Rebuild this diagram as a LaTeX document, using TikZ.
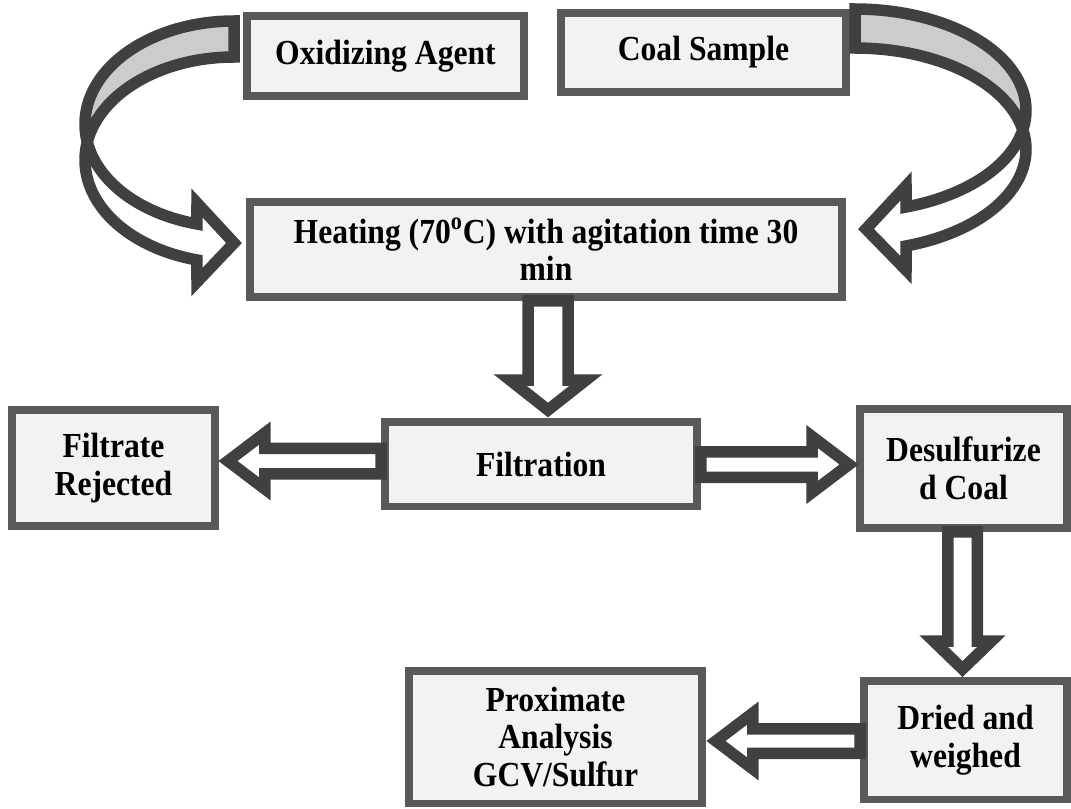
\documentclass[tikz,border=0pt]{standalone}
\usepackage{fontspec}
\setmainfont{Liberation Serif}[FakeStretch=0.9]
\usetikzlibrary{calc}
\definecolor{boxf}{HTML}{F2F2F2}
\definecolor{boxc}{HTML}{595959}
\definecolor{arrc}{HTML}{404040}
\definecolor{bandc}{HTML}{CCCCCC}
% #1 start, #2 tip, #3 shaft half width, #4 head half width, #5 head length
\newcommand\blockarrow[5]{%
  \coordinate (bac) at ($(#2)!#5!(#1)$);
  \draw[blk] ($(#1)!#3!90:(#2)$) -- ($(bac)!#3!90:(#2)$) -- ($(bac)!#4!90:(#2)$)
    -- (#2) -- ($(bac)!#4!-90:(#2)$) -- ($(bac)!#3!-90:(#2)$)
    -- ($(#1)!#3!-90:(#2)$) -- cycle;}
\begin{document}
\begin{tikzpicture}[x=0.02cm,y=-0.02cm,
  box/.style={draw=boxc, fill=boxf, line width=0.15cm, inner sep=0pt, align=center,
    font=\fontsize{20}{21.5}\selectfont\bfseries},
  blk/.style={draw=arrc, fill=white, line width=0.23cm, line join=miter},
  carr/.style={draw=arrc, line width=0.23cm, line join=miter},
  band/.style={fill=bandc}]
\useasboundingbox (0,0) rectangle (1071,808);

% boxes
\node[box, minimum width=5.55cm, minimum height=1.61cm] (ox) at (385.5,56) {Oxidizing Agent};
\node[box, minimum width=5.71cm, minimum height=1.59cm] (coal) at (703.5,52.5) {Coal Sample};
\node[box, minimum width=11.85cm, minimum height=1.91cm] (heat) at (546,249.5) {Heating (70\textsuperscript{o}C) with agitation time 30\\min};
\node[box, minimum width=4.07cm, minimum height=2.33cm] (rej) at (113.5,468) {Filtrate\\Rejected};
\node[box, minimum width=6.25cm, minimum height=1.69cm] (fil) at (541,464) {Filtration};
\node[box, minimum width=4.15cm, minimum height=2.39cm] (des) at (963.5,468.5) {Desulfurize\\d Coal};
\node[box, minimum width=5.87cm, minimum height=2.65cm] (prox) at (555.5,737) {Proximate\\Analysis\\GCV/Sulfur};
\node[box, minimum width=4.07cm, minimum height=2.37cm] (dried) at (965.5,740) {Dried and\\weighed};

% left curved arrow (oxidizing agent -> heating)
\fill[band] plot[domain=270:169.95, samples=60, variable=\t] ({234+149*cos(\t)},{124.1+103.1*sin(\t)})
  -- plot[domain=190.05:270, samples=60, variable=\t] ({234+149*cos(\t)},{160.1+103.1*sin(\t)}) -- cycle;
\draw[carr] (234,21) -- plot[domain=270:104.4, samples=90, variable=\t] ({234+149*cos(\t)},{124.1+103.1*sin(\t)})
  -- (197,203) -- (234,243) -- (197,282)
  -- plot[domain=104.4:270, samples=90, variable=\t] ({234+149*cos(\t)},{160.1+103.1*sin(\t)}) -- cycle;

% right curved arrow (coal sample -> heating)
\fill[band] plot[domain=270:371.1, samples=60, variable=\t] ({855+171*cos(\t)},{110.3+101.3*sin(\t)})
  -- plot[domain=348.9:270, samples=60, variable=\t] ({855+171*cos(\t)},{149.3+101.3*sin(\t)}) -- cycle;
\draw[carr] (855,9) -- plot[domain=270:432.6, samples=90, variable=\t] ({855+171*cos(\t)},{110.3+101.3*sin(\t)})
  -- (906,186) -- (866,229) -- (906,270)
  -- plot[domain=432.6:270, samples=90, variable=\t] ({855+171*cos(\t)},{149.3+101.3*sin(\t)}) -- cycle;

% block arrows
\coordinate (d1a) at ([xshift=0.04cm]heat.south);
\coordinate (d1b) at ([xshift=0.14cm,yshift=0.16cm]fil.north);
\blockarrow{d1a}{d1b}{0.4cm}{0.76cm}{0.6cm}

\coordinate (la) at ([yshift=0.06cm]fil.west);
\coordinate (lb) at ([xshift=0.18cm,yshift=0.14cm]rej.east);
\blockarrow{la}{lb}{0.255cm}{0.56cm}{0.74cm}

\coordinate (ra) at ([yshift=-0.01cm]fil.east);
\coordinate (rb) at ([xshift=-0.14cm,yshift=0.08cm]des.west);
\blockarrow{ra}{rb}{0.255cm}{0.56cm}{0.74cm}

\coordinate (d2a) at ([xshift=-0.02cm]des.south);
\coordinate (d2b) at ([xshift=-0.06cm,yshift=0.16cm]dried.north);
\blockarrow{d2a}{d2b}{0.295cm}{0.58cm}{0.56cm}

\coordinate (wa) at ([yshift=-0.02cm]dried.west);
\coordinate (wb) at ([xshift=0.2cm,yshift=-0.08cm]prox.east);
\blockarrow{wa}{wb}{0.245cm}{0.56cm}{0.74cm}
\end{tikzpicture}
\end{document}
